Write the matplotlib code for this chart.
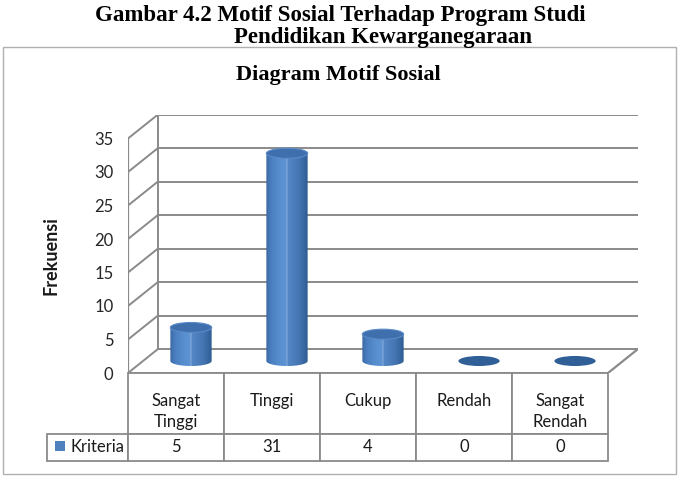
import numpy as np
import matplotlib
matplotlib.use("Agg")
import matplotlib.pyplot as plt
from matplotlib.patches import Rectangle, Ellipse, Polygon, Patch
from matplotlib.colors import LinearSegmentedColormap
import matplotlib.transforms as mtransforms

# data
categories = ["Sangat\nTinggi", "Tinggi", "Cukup", "Rendah", "Sangat\nRendah"]
values = [5, 31, 4, 0, 0]
series_name = "Kriteria"
yticks = [0, 5, 10, 15, 20, 25, 30, 35]

fig_title1 = "Gambar 4.2 Motif Sosial Terhadap Program Studi"
fig_title2 = "Pendidikan Kewarganegaraan"
chart_title = "Diagram Motif Sosial"
ylabel = "Frekuensi"

W, H = 684, 478
SANS = "Lato"
SERIF = "Liberation Serif"
GRID = "#8a8a8a"
TXT = "#1a1a1a"

fig = plt.figure(figsize=(W / 100, H / 100), dpi=100)

# outer chart border
fig.add_artist(Rectangle((3 / W, 1 - 474 / H), 673 / W, 427 / H, transform=fig.transFigure,
                         fill=False, ec="#b0b0b0", lw=1.0))

fig.text(340 / W, 1 - 16 / H, fig_title1, ha="center", va="center",
         family=SERIF, weight="bold", size=16.5)
fig.text(383 / W, 1 - 37 / H, fig_title2, ha="center", va="center",
         family=SERIF, weight="bold", size=16.5)
fig.text(338 / W, 1 - 75 / H, chart_title, ha="center", va="center",
         family=SERIF, weight="bold", size=16)
fig.text(51 / W, 1 - 256 / H, ylabel, rotation=90, ha="center", va="center",
         family=SANS, weight="bold", size=13, color=TXT)

# pseudo 3d depth offset, in data units
dx = 30 / 96
dy = 24 / 6.7
ymax = yticks[-1]
n = len(categories)

ax = fig.add_axes([128 / W, 1 - 373 / H, 510 / W, 258.5 / H])
for s in ax.spines.values():
    s.set_visible(False)
ax.set_xticks([])
ax.set_yticks(yticks)
ax.set_yticklabels([str(t) for t in yticks], family=SANS, size=12, color="#262626")
ax.tick_params(axis="y", length=0, pad=10.5)

x0, x1 = -0.5, n - 0.5
# back wall gridlines and left side wall
for t in yticks:
    ax.plot([x0 + dx, x1 + dx], [t + dy, t + dy], color=GRID, lw=1.4, solid_capstyle="butt")
    ax.plot([x0, x0 + dx], [t, t + dy], color=GRID, lw=1.4)
ax.plot([x0 + dx, x0 + dx], [dy, ymax + dy], color=GRID, lw=1.4)
ax.plot([x0, x0], [0, ymax], color=GRID, lw=1.6)
# floor front edge and right edge
ax.plot([x0, x1], [0, 0], color=GRID, lw=2.0)
ax.plot([x1, x1 + dx], [0, dy], color=GRID, lw=1.6)

# cylinders
cmap = LinearSegmentedColormap.from_list("cyl", [
    (0.0, "#3a6aa4"), (0.12, "#4a7ebf"), (0.35, "#5a8fd0"), (0.48, "#5f93d2"),
    (0.5, "#8fb4e2"), (0.52, "#5586c6"), (0.8, "#4575b2"), (1.0, "#2e5b91")])
grad = np.linspace(0, 1, 256)[None, :]
cw = 0.43
eh = 1.5
base = dy / 2
ang = np.linspace(0, np.pi, 40)
for i, v in enumerate(values):
    cx = i + dx / 2
    if v > 0:
        top = base + v
        left, right = cx - cw / 2, cx + cw / 2
        arc_x = cx - (cw / 2) * np.cos(ang)
        arc_y = base - (eh / 2) * np.sin(ang)
        pts = np.column_stack([
            np.r_[left, arc_x, right],
            np.r_[top, arc_y, top],
        ])
        body = Polygon(pts, closed=True, facecolor="none", edgecolor="none")
        ax.add_patch(body)
        im = ax.imshow(grad, cmap=cmap, extent=(left, right, base - eh / 2, top),
                       aspect="auto", origin="lower", zorder=3, interpolation="bilinear")
        im.set_clip_path(body)
        ax.add_patch(Ellipse((cx, top), cw, eh, facecolor="#3f70ad", edgecolor="#5a8bc8",
                             lw=0.8, zorder=4))
    else:
        ax.add_patch(Ellipse((cx, base), cw, eh, facecolor="#2f5f96", edgecolor="none", zorder=3))

ax.set_xlim(x0, x1 + dx)
ax.set_ylim(0, ymax + dy)

# data table under the chart (first column holds the legend key)
axw, axh = 510.0, 258.5
tbl = ax.table(cellText=[[""] + [str(v) for v in values]],
               colLabels=[""] * (n + 1), cellLoc="center",
               bbox=[(47 - 128) / axw, -(461 - 373) / axh, (608 - 47) / axw, (461 - 373) / axh])
tbl.auto_set_font_size(False)
for (r, c), cell in tbl.get_celld().items():
    cell.set_edgecolor(GRID)
    cell.set_linewidth(1.3)
    cell.set_width(81 if c == 0 else 96)
    cell.set_height(61 if r == 0 else 27)
    cell.get_text().set_fontsize(12)
    cell.get_text().set_family(SANS)
    cell.get_text().set_color(TXT)
tbl[(0, 0)].visible_edges = ""

hdr = mtransforms.blended_transform_factory(ax.transData, ax.transAxes)
for i, cat in enumerate(categories):
    ax.text(i, -(393 - 373) / axh, cat, transform=hdr, ha="center", va="top",
            family=SANS, size=12, color=TXT, linespacing=1.4, clip_on=False)

leg = ax.legend(handles=[Patch(facecolor="#4f81bd", edgecolor="none", label=series_name)],
                loc="center left", bbox_to_anchor=((55 - 128) / axw, -(447 - 373) / axh),
                frameon=False, borderpad=0, borderaxespad=0, handlelength=0.6,
                handleheight=0.6, handletextpad=0.35,
                prop={"family": SANS, "size": 12})
for t in leg.get_texts():
    t.set_color(TXT)

fig.savefig("out.png", dpi=100)
